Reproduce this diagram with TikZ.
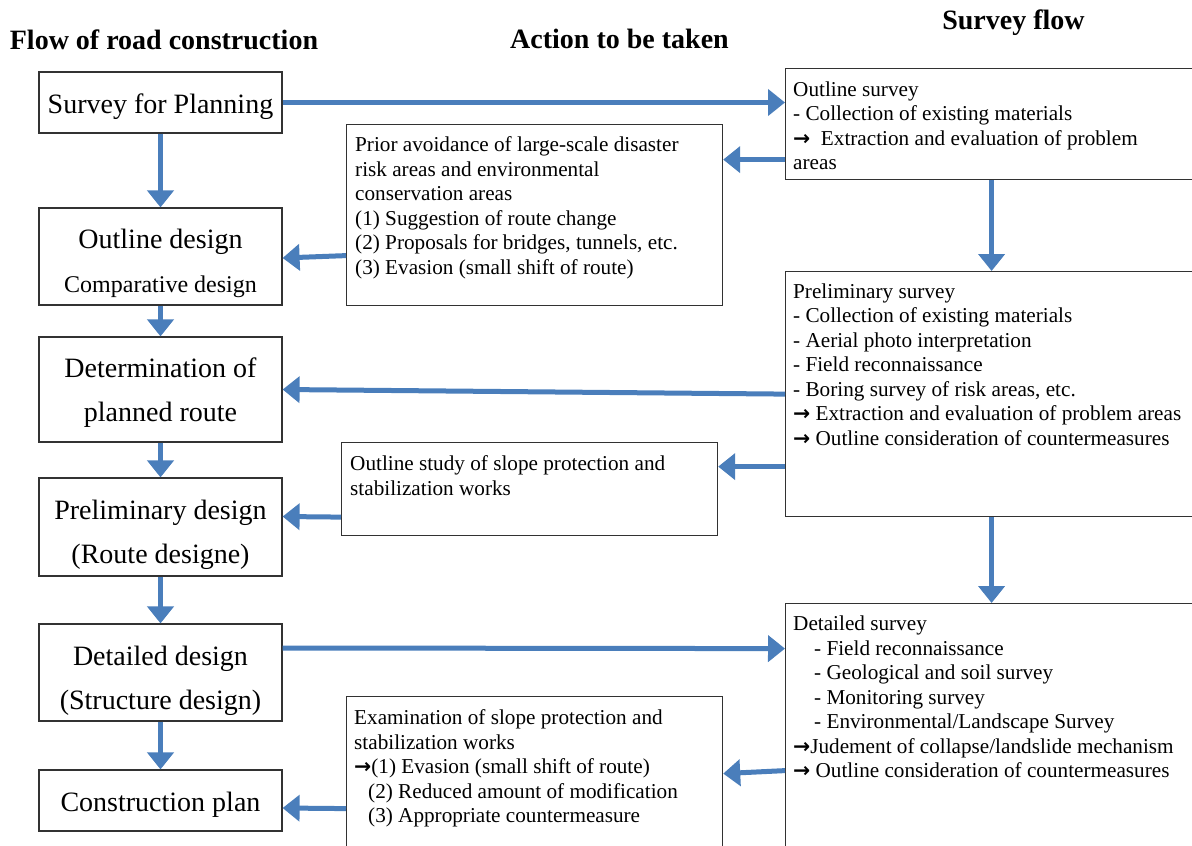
\documentclass[tikz,border=0pt]{standalone}
\usepackage{fontspec}
\setmainfont{Liberation Serif}
\newfontfamily\arrowfont{DejaVu Sans}
\usetikzlibrary{arrows.meta,calc}
\definecolor{flowblue}{RGB}{74,126,187}
\definecolor{boxline}{RGB}{50,50,50}
\newcommand{\ra}{{\arrowfont\bfseries\fontsize{20.5}{24.5}\selectfont →}}
\begin{document}
\begin{tikzpicture}[x=1pt,y=-1pt,
  stage/.style={draw=boxline, line width=1.2pt, minimum width=243pt, inner sep=0pt},
  stagetext/.style={align=center, inner sep=0pt, font=\fontsize{28}{44}\selectfont},
  panel/.style={draw=boxline, line width=1.2pt, anchor=north west, inner sep=0pt},
  note/.style={anchor=north west, inner sep=0pt, align=left,
    font=\fontsize{21.2}{24.5}\selectfont},
  heading/.style={anchor=base, inner sep=0pt, font=\fontsize{28}{34}\selectfont\bfseries},
  flow/.style={draw=flowblue, line width=5pt, -{Triangle[width=26pt,length=17pt]}}]
\useasboundingbox (0,0) rectangle (1192,846);

% column headings
\node[heading] (h1) at (164,49) {Flow of road construction};
\node[heading] (h2) at (619.5,48) {Action to be taken};
\node[heading] (h3) at (1013.5,29) {Survey flow};

% construction stages
\node[stage, minimum height=61pt] (SP) at (160.5,102.5) {};
\node[stagetext] (SPt) at ($(SP.center)+(0,4)$) {Survey for Planning};
\node[stage, minimum height=97pt] (OD) at (160.5,256.5) {};
\node[stagetext] (ODt) at ($(OD.center)+(0,6.5)$)
  {Outline design\\{\fontsize{24}{44}\selectfont Comparative design}};
\node[stage, minimum height=105pt] (DR) at (160.5,389.5) {};
\node[stagetext] (DRt) at ($(DR.center)+(0,3)$) {Determination of\\planned route};
\node[stage, minimum height=98pt] (PD) at (160.5,527) {};
\node[stagetext] (PDt) at ($(PD.center)+(0,8)$) {Preliminary design\\(Route designe)};
\node[stage, minimum height=97pt] (DD) at (160.5,672.5) {};
\node[stagetext] (DDt) at ($(DD.center)+(0,8)$) {Detailed design\\(Structure design)};
\node[stage, minimum height=61pt] (CP) at (160.5,800.5) {};
\node[stagetext] (CPt) at ($(CP.center)+(0,4)$) {Construction plan};

% actions
\node[panel, minimum width=376pt, minimum height=181pt] (PA) at (346,124) {};
\node[note] (PAt) at (355,136.5) {Prior avoidance of large-scale disaster\\
  risk areas and environmental\\conservation areas\\(1) Suggestion of route change\\
  (2) Proposals for bridges, tunnels, etc.\\(3) Evasion (small shift of route)};
\node[panel, minimum width=376pt, minimum height=93pt] (OSt) at (341,442) {};
\node[note] (OStt) at (350,455.5) {Outline study of slope protection and\\stabilization works};
\node[panel, minimum width=376pt, minimum height=170pt] (EX) at (346,696) {};
\node[note] (EXt) at (354,709.5) {Examination of slope protection and\\stabilization works\\
  \ra(1) Evasion (small shift of route)\\
  \hspace*{14pt}(2) Reduced amount of modification\\
  \hspace*{14pt}(3) Appropriate countermeasure};

% surveys
\node[panel, minimum width=412pt, minimum height=111pt] (OS) at (785,68) {};
\node[note] (OSt2) at (793,81.5) {Outline survey\\- Collection of existing materials\\
  \ra\ \ Extraction and evaluation of problem\\areas};
\node[panel, minimum width=412pt, minimum height=245pt] (PS) at (785,271) {};
\node[note] (PSt) at (793,283.5) {Preliminary survey\\- Collection of existing materials\\
  - Aerial photo interpretation\\- Field reconnaissance\\- Boring survey of risk areas, etc.\\
  \ra\ Extraction and evaluation of problem areas\\\ra\ Outline consideration of countermeasures};
\node[panel, minimum width=412pt, minimum height=260pt] (DS) at (785,603) {};
\node[note] (DSt) at (793,616) {Detailed survey\\
  \hspace*{21pt}- Field reconnaissance\\
  \hspace*{21pt}- Geological and soil survey\\
  \hspace*{21pt}- Monitoring survey\\
  \hspace*{21pt}- Environmental/Landscape Survey\\
  \ra Judement of collapse/landslide mechanism\\
  \ra\ Outline consideration of countermeasures};

% main construction flow
\draw[flow] (SP.south) -- (OD.north);
\draw[flow] (OD.south) -- (DR.north);
\draw[flow] (DR.south) -- (PD.north);
\draw[flow] (PD.south) -- (DD.north);
\draw[flow] (DD.south) -- (CP.north);

% survey flow
\draw[flow] (OS.south) -- (PS.north);
\draw[flow] (PS.south) -- (DS.north);

% links between columns
\draw[flow] (SP.east) -- (OS.west |- SP.east);
\draw[flow] ($(OS.west)+(0,35.5)$) -- ($(PA.east)+(0,-55.5)$);
\draw[flow] ($(PA.west)+(0,40.5)$) -- ($(OD.east)+(0,1.5)$);
\draw[flow] (PS.west) -- (DR.east);
\draw[flow] ($(PS.west)+(0,72.5)$) -- ($(OSt.east)+(0,-22.5)$);
\draw[flow] ($(OSt.west)+(0,28)$) -- ($(PD.east)+(0,-10.5)$);
\draw[flow] ($(DD.east)+(0,-24.5)$) -- ($(DS.west)+(0,-85)$);
\draw[flow] ($(DS.west)+(0,37)$) -- ($(EX.east)+(0,-8)$);
\draw[flow] ($(EX.west)+(0,27)$) -- ($(CP.east)+(0,7.5)$);
\end{tikzpicture}
\end{document}
